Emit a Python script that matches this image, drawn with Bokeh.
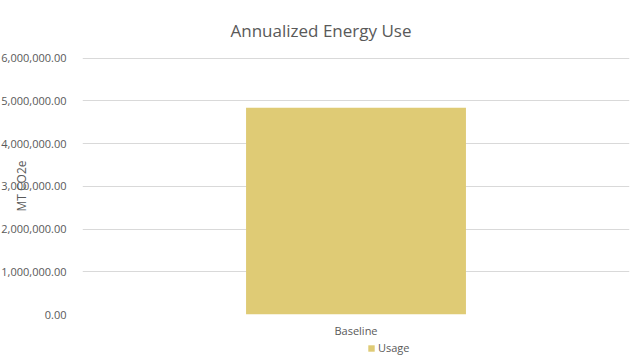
from bokeh.plotting import figure
from bokeh.layouts import column
from bokeh.models import FactorRange, Range1d, NumeralTickFormatter, Legend, LegendItem, SingleIntervalTicker, Title
from bokeh.embed import file_html
from bokeh.resources import INLINE

categories = ["Baseline"]
usage = [4840000]
series_name = "Usage"
title_text = "Annualized Energy Use"
y_label = "MT CO2e"
y_max = 6000000

FONT = "Open Sans"
GRAY = "#595959"
BAR = "#DFCB75"

p = figure(width=637, height=340, x_range=FactorRange(*categories), y_range=Range1d(0, y_max * 1.0025),
           output_backend="svg", toolbar_location=None,
           min_border_left=82, min_border_right=8, min_border_top=57, min_border_bottom=24)
p.title = Title(text=title_text, align="left", offset=148, standoff=32,
                text_font=FONT, text_font_size="17px", text_font_style="normal", text_color=GRAY)
p.outline_line_color = None

r = p.vbar(x=categories, top=usage, width=0.402, fill_color=BAR, line_color=None)

p.yaxis.ticker = SingleIntervalTicker(interval=1000000)
p.yaxis.formatter = NumeralTickFormatter(format="0,0.00")
for ax in (p.xaxis, p.yaxis):
    ax.axis_line_color = None
    ax.major_tick_line_color = None
    ax.minor_tick_line_color = None
    ax.major_label_text_font = FONT
    ax.major_label_text_font_size = "11px"
    ax.major_label_text_color = GRAY
p.yaxis.major_label_standoff = 10
p.xaxis.major_label_standoff = 2
p.yaxis.axis_label = y_label
p.yaxis.axis_label_standoff = -32
p.yaxis.axis_label_text_font = FONT
p.yaxis.axis_label_text_font_size = "12px"
p.yaxis.axis_label_text_font_style = "normal"
p.yaxis.axis_label_text_color = GRAY
p.xgrid.grid_line_color = None
p.ygrid.grid_line_color = "#d9d9d9"
p.ygrid.grid_line_width = 1

# legend strip below the chart
lg = figure(width=637, height=20, x_range=FactorRange(*categories), y_range=Range1d(0, y_max),
            output_backend="svg", toolbar_location=None,
            min_border_left=0, min_border_right=0, min_border_top=0, min_border_bottom=0)
lg.axis.visible = False
lg.grid.visible = False
lg.outline_line_color = None
r2 = lg.vbar(x=categories, top=usage, width=0.402, fill_color=BAR, line_color=None, visible=False)
legend = Legend(items=[LegendItem(label=series_name, renderers=[r2])], location=(285, 5),
                orientation="horizontal", label_text_font=FONT, label_text_font_size="11px",
                label_text_color=GRAY, glyph_width=8, glyph_height=8, padding=0, spacing=0,
                label_standoff=3, label_height=12, background_fill_alpha=0, border_line_color=None,
                margin=0, inactive_fill_alpha=0)
lg.add_layout(legend)

layout = column(p, lg, spacing=0)
open("out.html", "w").write(file_html(layout, INLINE))
